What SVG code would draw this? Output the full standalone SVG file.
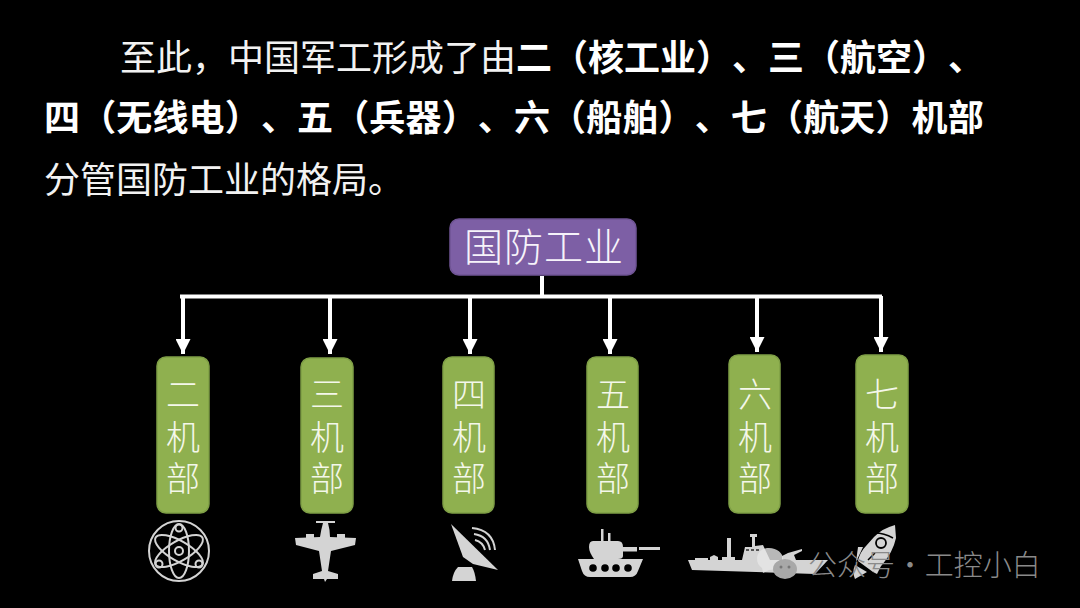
<svg xmlns="http://www.w3.org/2000/svg" width="1080" height="608" viewBox="0 0 1080 608">
<style>
text{font-family:"Noto Sans CJK SC","Noto Sans",sans-serif;font-kerning:none;text-spacing-trim:space-all}
.p{font-size:36px;fill:#f2f2f2}
.b{font-weight:700;fill:#fff}
.g{fill:#8fb04f;stroke:#7f9f46;stroke-width:1.5}
.n{font-size:34px;fill:#f4f7ea;text-anchor:middle;font-weight:300}
.c{stroke:#fff;stroke-width:4;fill:none}
.i{fill:#d4d4d4}
.o{fill:none;stroke:#d4d4d4;stroke-width:2}
.k{fill:#000}
</style>
<defs>
<marker id="a" markerUnits="userSpaceOnUse" markerWidth="15" markerHeight="15" refX="15" refY="7.5" orient="auto"><path d="M0 0L15 7.5L0 15Z" fill="#fff"/></marker>
</defs>
<rect width="1080" height="608" fill="#000"/>
<g id="para">
<text class="p" x="120" y="71">至此，中国军工形成了由<tspan class="b">二（核工业）、三（航空）、</tspan></text>
<text class="p b" x="44" y="131" letter-spacing=".15">四（无线电）、五（兵器）、六（船舶）、七（航天）机部</text>
<text class="p" x="44" y="193">分管国防工业的格局。</text>
</g>
<g id="connectors">
<path class="c" d="M542 276V296"/>
<path class="c" d="M180 296.500H882"/>
<path class="c" d="M183 296V354" marker-end="url(#a)"/>
<path class="c" d="M330 296V354" marker-end="url(#a)"/>
<path class="c" d="M470 296V354" marker-end="url(#a)"/>
<path class="c" d="M610 296V354" marker-end="url(#a)"/>
<path class="c" d="M757 296V352" marker-end="url(#a)"/>
<path class="c" d="M881 296V352" marker-end="url(#a)"/>
</g>
<g id="root"><rect x="450" y="219" width="186" height="56" rx="9" fill="#7d5fa5" stroke="#6f5494" stroke-width="1.500"/><text x="544" y="261" font-size="39" fill="#f6f3fa" text-anchor="middle" font-weight="300" letter-spacing="1">国防工业</text></g>
<g id="n2"><rect class="g" x="157" y="357" width="52" height="156" rx="9"/><text class="n"><tspan x="183" y="407">二</tspan><tspan x="183" y="450">机</tspan><tspan x="183" y="491">部</tspan></text></g>
<g id="n3"><rect class="g" x="301" y="358" width="52" height="155" rx="9"/><text class="n"><tspan x="327" y="407">三</tspan><tspan x="327" y="450">机</tspan><tspan x="327" y="491">部</tspan></text></g>
<g id="n4"><rect class="g" x="443" y="357" width="51" height="156" rx="9"/><text class="n"><tspan x="469" y="407">四</tspan><tspan x="469" y="450">机</tspan><tspan x="469" y="491">部</tspan></text></g>
<g id="n5"><rect class="g" x="587" y="357" width="51" height="156" rx="9"/><text class="n"><tspan x="613" y="407">五</tspan><tspan x="613" y="450">机</tspan><tspan x="613" y="491">部</tspan></text></g>
<g id="n6"><rect class="g" x="729" y="355" width="51" height="158" rx="9"/><text class="n"><tspan x="755" y="407">六</tspan><tspan x="755" y="450">机</tspan><tspan x="755" y="491">部</tspan></text></g>
<g id="n7"><rect class="g" x="856" y="355" width="52" height="158" rx="9"/><text class="n"><tspan x="882" y="407">七</tspan><tspan x="882" y="450">机</tspan><tspan x="882" y="491">部</tspan></text></g>
<g id="icon-atom">
<circle class="o" cx="179" cy="551" r="30"/>
<ellipse class="o" cx="179" cy="551" rx="10" ry="27"/>
<ellipse class="o" cx="179" cy="551" rx="10" ry="27" transform="rotate(60 179 551)"/>
<ellipse class="o" cx="179" cy="551" rx="10" ry="27" transform="rotate(-60 179 551)"/>
<circle class="o" cx="179" cy="551" r="4"/>
<circle class="o" cx="179" cy="528" r="3.500"/><circle class="o" cx="159" cy="564" r="3.500"/><circle class="o" cx="199" cy="564" r="3.500"/>
</g>
<g id="icon-plane">
<path class="i" d="M316 521H335V523H328Q330 530 330 537L356 538L355 545L331 551L328 571L338 574V579H327L325 582L324 579H313V574L322 571L319 551L296 545L295 538L320 537Q321 530 323 523H316Z"/>
<rect class="i" x="306" y="534" width="8" height="4"/><rect class="i" x="337" y="534" width="8" height="4"/>
</g>
<g id="icon-dish">
<path class="i" d="M451 524L498 570L473 564L463 557Z"/>
<path class="i" d="M452 581Q453 572 458 567H472Q475 572 476 581Z"/>
<path class="o" d="M472 528Q493 530 495 550M474 534Q488 536 490 550M475 540Q483 542 485 550" stroke-width="2.500"/>
</g>
<g id="icon-tank">
<rect class="i" x="601" y="529" width="2.500" height="12"/><rect class="i" x="608" y="533" width="2.500" height="8"/>
<path class="i" d="M593 541H618Q623 541 623 547V556Q623 559 618 559H594Q589 552 589 547Q589 541 593 541Z"/>
<rect class="i" x="623" y="547" width="14" height="4.500"/><rect class="i" x="639" y="547" width="21" height="3"/>
<path class="i" d="M578 559H643L638 571Q636 577 630 577H590Q584 577 582 571Z"/>
<circle class="k" cx="593" cy="568" r="3.800"/><circle class="k" cx="605" cy="568" r="3.800"/><circle class="k" cx="616" cy="568" r="3.800"/><circle class="k" cx="628" cy="568" r="3.800"/>
</g>
<g id="icon-ship">
<path class="i" d="M688 560H828L815 574L692 570Z"/>
<path class="i" d="M695 558H708V560H695ZM710 557L714 555L718 557V560H710ZM722 557H727V538H731V557H735V560H722ZM742 560L745 547H752V537H750V534H757V537H755V546L763 545L770 560ZM782 560V556L788 553L802 549V551L794 555L796 560Z"/>
<path fill="#555" d="M746 549h3v2h-3zM751 549h3v2h-3zM756 549h3v2h-3z"/>
</g>
<g id="icon-rocket">
<path class="i" d="M895 525L896 538Q893 552 882 565L873 572L858 561Q860 552 866 546L874 537Q883 528 895 525Z"/>
<path class="i" d="M858 547L863 547L856 562Z"/>
<path class="i" d="M885 558L873 572L877 574Z"/>
<path class="i" d="M855 565L867 572L855 579Q852 572 855 565Z"/>
<path d="M875 533Q884 533 893 538M868 560L875 553" stroke="#000" stroke-width="1.500" fill="none"/>
<circle cx="881" cy="543" r="5" fill="#d4d4d4" stroke="#000" stroke-width="1.800"/>
</g>
<g id="watermark">
<path d="M769 548C761 548 757 553 757 559C757 563 759 566 762 568L763 573L769 570C776 570 783 566 783 559C783 553 777 548 769 548Z" fill="#e6e6e6" opacity=".8"/>
<ellipse cx="785" cy="569" rx="12" ry="10" fill="#a8a8a8"/>
<circle cx="781" cy="567" r="1.500" fill="#777"/><circle cx="789" cy="567" r="1.500" fill="#777"/>
<text x="808" y="576" font-size="29" fill="#8a8a8a" font-weight="300" word-spacing="-6">公众号 · 工控小白</text>
</g>
</svg>
